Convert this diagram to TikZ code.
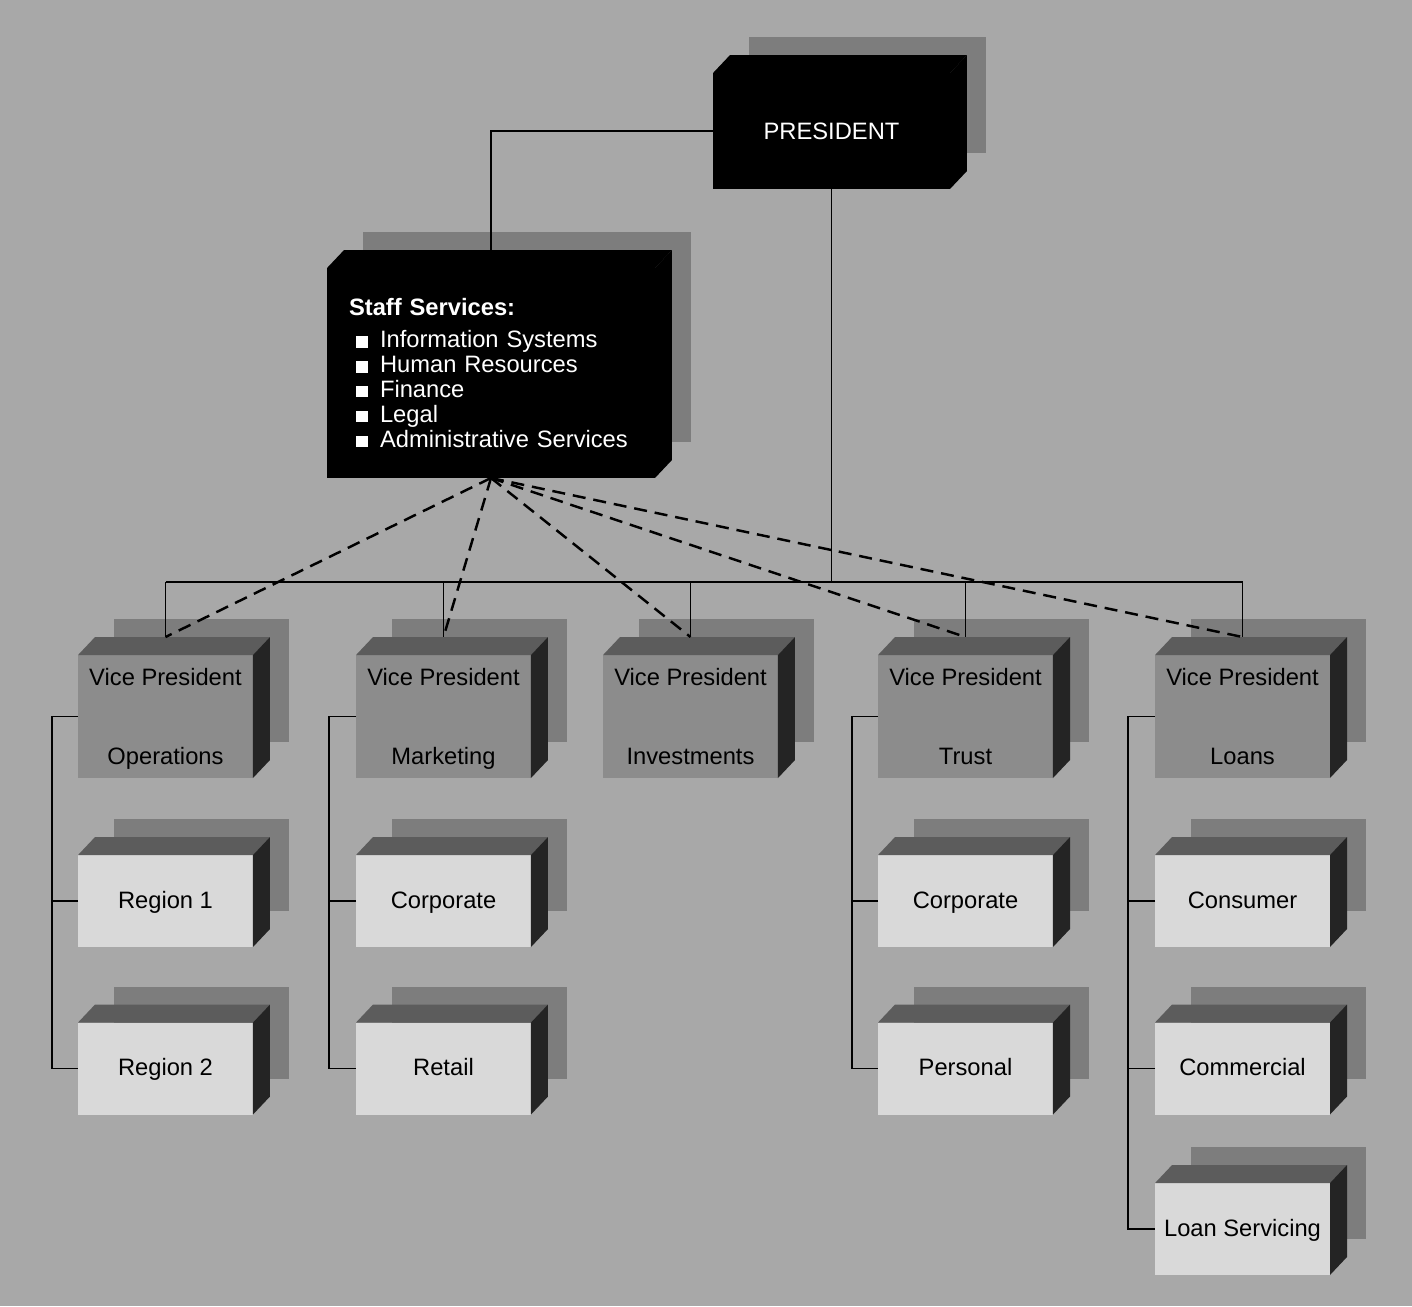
\documentclass[tikz,border=0pt]{standalone}
\usepackage{fontspec}
\setmainfont{Liberation Sans}
\usepackage{xcolor}
\usetikzlibrary{positioning, shadows, calc}
\definecolor{paper}{gray}{0.66}
\definecolor{shadowgray}{gray}{0.49}
\definecolor{vpgray}{gray}{0.55}
\definecolor{unitgray}{gray}{0.85}
\definecolor{topgray}{gray}{0.36}
\definecolor{sidegray}{gray}{0.14}
\newcommand{\sqbullet}{\hspace{0.14cm}\rule{0.23cm}{0.23cm}\hspace{0.25cm}}

\begin{document}
\begin{tikzpicture}[
  x=0.02cm, y=-0.02cm,
  every node/.style={font=\fontsize{13.5}{16}\selectfont, inner sep=0pt, outer sep=0pt},
  backshadow/.style={drop shadow={shadow xshift=0.72cm, shadow yshift=0.72cm,
    fill=shadowgray, opacity=1}},
  headbox/.style={backshadow, fill=black, text=white,
    minimum width=4.74cm, minimum height=2.32cm},
  staffbox/.style={backshadow, fill=black, text=white, align=left,
    font=\fontsize{13.5}{14.2}\selectfont,
    text width=5.68cm, inner xsep=0.44cm, minimum height=4.2cm},
  vpbox/.style={backshadow, fill=vpgray, align=center, text depth=0pt,
    minimum width=3.5cm, minimum height=2.46cm},
  unitbox/.style={backshadow, fill=unitgray, text height=9.7pt, text depth=1.5pt,
    minimum width=3.5cm, minimum height=1.84cm},
  link/.style={line width=1.1pt},
  staffline/.style={line width=1.4pt, dash pattern=on 7.4pt off 4.5pt}
]

  % background
  \fill[paper] (0,0) rectangle (1412,1306);

  % top level
  \node[headbox] (pres) at (831.5,131) {PRESIDENT};
  \node[staffbox] (staff) at (491,373) {\textbf{Staff Services:}\\[4pt]
    \sqbullet Information Systems\\
    \sqbullet Human Resources\\
    \sqbullet Finance\\
    \sqbullet Legal\\
    \sqbullet Administrative Services};

  % vice presidents
  \node[vpbox] (ops)   at (165.5,716.5)  {Vice President\\[29pt]Operations};
  \node[vpbox] (mkt)   at (443.5,716.5)  {Vice President\\[29pt]Marketing};
  \node[vpbox] (inv)   at (690.5,716.5)  {Vice President\\[29pt]Investments};
  \node[vpbox] (trust) at (965.5,716.5)  {Vice President\\[29pt]Trust};
  \node[vpbox] (loans) at (1242.5,716.5) {Vice President\\[29pt]Loans};

  % units
  \node[unitbox] (reg1)  at (165.5,901)   {Region 1};
  \node[unitbox] (reg2)  at (165.5,1068.5) {Region 2};
  \node[unitbox] (mcorp) at (443.5,901)   {Corporate};
  \node[unitbox] (retail) at (443.5,1068.5) {Retail};
  \node[unitbox] (tcorp) at (965.5,901)   {Corporate};
  \node[unitbox] (pers)  at (965.5,1068.5) {Personal};
  \node[unitbox] (cons)  at (1242.5,901)  {Consumer};
  \node[unitbox] (comm)  at (1242.5,1068.5) {Commercial};
  \node[unitbox] (lserv) at (1242.5,1229) {Loan Servicing};

  % top and side faces
  \foreach \n/\t/\s in {pres/black/black, staff/black/black,
      ops/topgray/sidegray, mkt/topgray/sidegray, inv/topgray/sidegray,
      trust/topgray/sidegray, loans/topgray/sidegray,
      reg1/topgray/sidegray, reg2/topgray/sidegray, mcorp/topgray/sidegray,
      retail/topgray/sidegray, tcorp/topgray/sidegray, pers/topgray/sidegray,
      cons/topgray/sidegray, comm/topgray/sidegray, lserv/topgray/sidegray}{
    \fill[\t] (\n.north west) -- ++(17,-18) -- ($(\n.north east)+(17,-18)$)
      -- (\n.north east) -- cycle;
    \fill[\s] (\n.north east) -- ++(17,-18) -- ($(\n.south east)+(17,-18)$)
      -- (\n.south east) -- cycle;
    \coordinate (\n-t) at ($(\n.north)+(0,-18)$);
  }

  % president links
  \coordinate (bus) at (0,582);
  \draw[link] (pres.west) -| (staff-t);
  \draw[link] (pres.south) -- (pres.south |- bus);
  \draw[link] (ops-t |- bus) -- (loans-t |- bus);
  \foreach \n in {ops, mkt, inv, trust, loans}
    \draw[link] (\n-t |- bus) -- (\n-t);

  % staff services (dashed)
  \foreach \n in {ops, mkt, inv, trust, loans}
    \draw[staffline] (staff.south) -- (\n-t);

  % units under each vice president
  \draw[link] (ops.west) -- ++(-26,0) |- (reg2.west);
  \draw[link] (reg1.west) -- ++(-26,0);
  \draw[link] (mkt.west) -- ++(-27,0) |- (retail.west);
  \draw[link] (mcorp.west) -- ++(-27,0);
  \draw[link] (trust.west) -- ++(-26,0) |- (pers.west);
  \draw[link] (tcorp.west) -- ++(-26,0);
  \draw[link] (loans.west) -- ++(-27,0) |- (lserv.west);
  \draw[link] (cons.west) -- ++(-27,0);
  \draw[link] (comm.west) -- ++(-27,0);

\end{tikzpicture}
\end{document}
